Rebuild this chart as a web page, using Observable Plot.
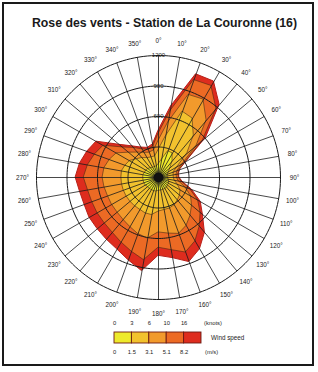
<!DOCTYPE html>
<html><head><meta charset="utf-8">
<script src="https://cdn.jsdelivr.net/npm/d3@7"></script>
<script src="https://cdn.jsdelivr.net/npm/@observablehq/plot@0.6"></script>
<style>
html,body{margin:0;padding:0;background:#fff;}
#wrap{position:relative;width:318px;height:372px;overflow:hidden;font-family:"Liberation Sans",Arial,sans-serif;}
#frame{position:absolute;left:2px;top:2px;width:308px;height:360px;border:2px solid #1a1a1a;}
#title{position:absolute;left:0;top:16px;width:329px;text-align:center;font-weight:bold;font-size:12.3px;line-height:14px;color:#1a1a1a;white-space:nowrap;}
#chart{position:absolute;left:0;top:0;}
#legend{position:absolute;left:0;top:315px;}
</style></head>
<body><div id="wrap"><div id="frame"></div><div id="title">Rose des vents - Station de La Couronne (16)</div><div id="chart"></div><div id="legend"></div></div>
<script>
// Directions (degrees, clockwise from north)
const directions = [0,10,20,30,40,50,60,70,80,90,100,110,120,130,140,150,160,170,180,190,200,210,220,230,240,250,260,270,280,290,300,310,320,330,340,350];
// Counts per wind-speed class (m/s): 0-1.5, 1.5-3.1, 3.1-5.1, 5.1-8.2, >8.2
const band0 = [130,175,275,275,215,155,120,100,90,90,100,110,120,120,130,130,130,130,130,140,140,140,140,140,150,150,150,150,150,140,140,130,120,110,110,110];
const band1 = [140,235,415,395,325,215,100,60,60,60,60,90,130,155,165,185,195,195,205,235,235,225,225,225,215,215,215,215,215,205,185,150,130,110,100,100];
const band2 = [90,140,175,215,195,120,60,40,30,30,40,80,120,155,195,235,265,235,205,235,215,195,175,165,165,165,175,185,175,165,150,100,70,60,50,60];
const band3 = [70,110,155,155,150,80,30,20,20,20,30,50,80,110,140,175,195,165,150,215,185,175,165,165,165,165,165,185,165,155,150,80,60,40,30,40];
const band4 = [30,50,60,50,50,40,10,5,5,5,10,20,30,30,80,90,100,80,80,110,90,80,90,90,90,80,80,80,80,80,80,40,20,20,20,20];
const bands = [band0, band1, band2, band3, band4];
const bandColors = ["#eeea2c", "#f2c22e", "#f29a2c", "#ec6a24", "#de2c1e"];
const rings = [300, 600, 900, 1200];
const knotsTicks = ["0", "3", "6", "10", "16"];
const msTicks = ["0", "1.5", "3.1", "5.1", "8.2"];

const K = 0.001;               // degrees of arc per count (polar projection)
const lon = d => 180 - d;       // compass direction -> longitude around the pole
const lat = v => 90 - v * K;    // count -> latitude (distance from pole)
const Rmax = 1200, Rlab = 1338, Rdom = 1400;
const S = 122 / Rmax;           // px per count
const half = Rdom * S;          // half-size of the frame in px
const cx = 158, cy = 177;

// cumulative totals per direction
const cumul = bands.map((_, j) => directions.map((d, i) => ({
  dir: d, value: d3.sum(bands.slice(0, j + 1), b => b[i]), level: j
})));

const areas = [];
for (let j = 4; j >= 0; j--) {
  areas.push(Plot.area(cumul[j], {
    x1: d => lon(d.dir), y1: d => lat(d.value), x2: 0, y2: 90,
    fill: bandColors[j],
    stroke: j === 4 ? "#b8201a" : "#4a2a12",
    strokeWidth: j === 4 ? 1 : 0.6,
    curve: "linear-closed"
  }));
}

const W = 318, H = 322;
const chart = Plot.plot({
  width: W, height: H,
  marginLeft: cx - half, marginRight: W - cx - half, marginTop: cy - half, marginBottom: H - cy - half,
  inset: 0,
  style: "background:transparent;font-family:'Liberation Sans',Arial,sans-serif;color:#222;",
  color: {type: "identity"},
  projection: {
    type: "azimuthal-equidistant",
    rotate: [0, -90],
    domain: d3.geoCircle().center([0, 90]).radius(Rdom * K)()
  },
  marks: [
    Plot.text(rings, {x: 180, y: v => lat(v), text: v => String(v), fontSize: 6, fill: "#222"}),
    ...areas,
    Plot.geo(rings, {
      geometry: v => d3.geoCircle().center([0, 90]).radius(v * K).precision(2)(),
      stroke: "#1a1a1a", strokeWidth: 1, fill: "none"
    }),
    Plot.link(directions, {
      x1: d => lon(d), y1: lat(Rmax), x2: d => lon(d), y2: 90,
      stroke: "#1a1a1a", strokeWidth: 0.8
    }),
    Plot.dot([0], {x: 0, y: 90, r: 5, fill: "#111"}),
    Plot.text(directions, {x: d => lon(d), y: lat(Rlab), text: d => d + "°", fontSize: 6.3, fill: "#222"})
  ]
});
document.getElementById("chart").appendChild(chart);

const legend = Plot.plot({
  width: 318, height: 45,
  marginLeft: 114, marginRight: 117, marginTop: 17, marginBottom: 17,
  x: {domain: [0, 5], axis: null},
  color: {type: "identity"},
  style: "background:transparent;font-family:'Liberation Sans',Arial,sans-serif;color:#222;",
  marks: [
    Plot.rect(bandColors, {x1: (d, i) => i, x2: (d, i) => i + 1, fill: d => d, stroke: "#6a1a12", strokeWidth: 0.9}),
    Plot.text(knotsTicks, {x: (d, i) => i, frameAnchor: "top", lineAnchor: "middle", dy: -9, text: d => d, fontSize: 5.8}),
    Plot.text(msTicks, {x: (d, i) => i, frameAnchor: "bottom", lineAnchor: "middle", dy: 9, text: d => d, fontSize: 5.8}),
    Plot.text(["(knots)"], {x: 5.15, frameAnchor: "top", lineAnchor: "middle", dy: -9, textAnchor: "start", text: d => d, fontSize: 5.8}),
    Plot.text(["(m/s)"], {x: 5.2, frameAnchor: "bottom", lineAnchor: "middle", dy: 9, textAnchor: "start", text: d => d, fontSize: 5.8}),
    Plot.text(["Wind speed"], {x: 5.55, frameAnchor: "middle", lineAnchor: "middle", textAnchor: "start", text: d => d, fontSize: 6.3})
  ]
});
document.getElementById("legend").appendChild(legend);
</script>
</body></html>
